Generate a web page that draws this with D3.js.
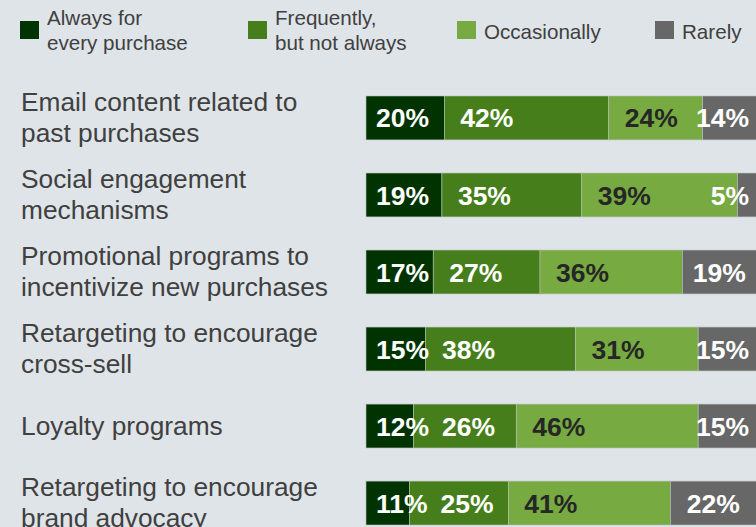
<!DOCTYPE html>
<meta charset="utf-8">
<style>
  body { margin: 0; background: #dfe4e8; }
  svg { display: block; font-family: "Liberation Sans", Arial, sans-serif; }
</style>
<body>
<div id="chart"></div>
<script src="https://cdnjs.cloudflare.com/ajax/libs/d3/7.8.5/d3.min.js"></script>
<script>
  // categories, top to bottom (line breaks as in the original)
  var categories = [
    "Email content related to\npast purchases",
    "Social engagement\nmechanisms",
    "Promotional programs to\nincentivize new purchases",
    "Retargeting to encourage\ncross-sell",
    "Loyalty programs",
    "Retargeting to encourage\nbrand advocacy"
  ];

  var seriesNames = ["Always for\nevery purchase", "Frequently,\nbut not always", "Occasionally", "Rarely"];
  var seriesKeys = ["always", "frequently", "occasionally", "rarely"];

  var always       = [20, 19, 17, 15, 12, 11];
  var frequently   = [42, 35, 27, 38, 26, 25];
  var occasionally = [24, 39, 36, 31, 46, 41];
  var rarely       = [14, 5, 19, 15, 15, 22];

  var colors = ["#013300", "#477e1c", "#77aa41", "#676767"];
  var labelColors = ["#fff", "#fff", "#262626", "#fff"];

  var W = 756, H = 527;

  var rows = categories.map(function (c, i) {
    return { cat: c, always: always[i], frequently: frequently[i], occasionally: occasionally[i], rarely: rarely[i] };
  });

  // bars are drawn as shares of the row total (rows don't all add up to 100)
  var stack = d3.stack().keys(seriesKeys).offset(d3.stackOffsetExpand);
  var series = stack(rows);

  var x = d3.scaleLinear().domain([0, 1]).range([366, 757.5]);
  var y = d3.scaleBand().domain(d3.range(categories.length)).range([96, 525]).paddingInner(0.43).paddingOuter(0);

  var svg = d3.select("#chart").append("svg")
    .attr("width", W)
    .attr("height", H);

  // legend
  var legendX = [20, 248, 457, 655];
  var legend = svg.append("g").attr("class", "legend");
  seriesNames.forEach(function (name, i) {
    var g = legend.append("g").attr("transform", "translate(" + legendX[i] + ",0)");
    g.append("rect")
      .attr("x", 0).attr("y", 21)
      .attr("width", 19).attr("height", 18)
      .attr("fill", colors[i]);
    var lines = name.split("\n");
    var t = g.append("text")
      .attr("fill", "#404040")
      .style("font-size", "20.6px");
    lines.forEach(function (l, j) {
      t.append("tspan")
        .attr("x", 27)
        .attr("y", lines.length === 1 ? 39 : 25 + j * 24.5)
        .text(l);
    });
  });

  // category labels
  var catG = svg.append("g").attr("class", "categories");
  categories.forEach(function (c, i) {
    var lines = c.split("\n");
    var cy = y(i) + y.bandwidth() / 2;
    var t = catG.append("text")
      .attr("fill", "#404040")
      .style("font-size", "26.3px");
    lines.forEach(function (l, j) {
      t.append("tspan")
        .attr("x", 21)
        .attr("y", cy + 8.5 + (j - (lines.length - 1) / 2) * 30.5)
        .text(l);
    });
  });

  // bars
  var layer = svg.append("g").selectAll("g")
    .data(series)
    .enter().append("g")
    .attr("fill", function (d, i) { return colors[i]; });

  layer.selectAll("rect")
    .data(function (d) { return d; })
    .enter().append("rect")
    .attr("x", function (d) { return x(d[0]); })
    .attr("y", function (d, i) { return y(i); })
    .attr("width", function (d) { return x(d[1]) - x(d[0]); })
    .attr("height", y.bandwidth())
    .attr("stroke", "#b7c0b7")
    .attr("stroke-width", 0.6);

  // value labels, placed left to right in each row so they don't collide
  var labelsG = svg.append("g").attr("class", "values");
  categories.forEach(function (c, r) {
    var prevEnd = 0;
    var cy = y(r) + y.bandwidth() / 2;
    series.forEach(function (s, k) {
      var seg = s[r];
      var val = s[r].data[s.key];
      var t = labelsG.append("text")
        .attr("fill", labelColors[k])
        .attr("y", cy)
        .attr("dy", "0.36em")
        .style("font-size", "26.5px")
        .style("font-weight", "bold")
        .text(val + "%");
      var w = t.node().getComputedTextLength();
      var x0 = x(seg[0]), x1 = Math.min(x(seg[1]), W);
      var tx;
      if (k === 0) {
        tx = x0 + 10;
      } else if (k === series.length - 1) {
        tx = Math.min((x0 + x1) / 2 - w / 2, 749 - w);
      } else {
        tx = Math.max(x0 + 16, prevEnd + 13);
      }
      t.attr("x", tx);
      prevEnd = tx + w;
    });
  });
</script>
</body>
